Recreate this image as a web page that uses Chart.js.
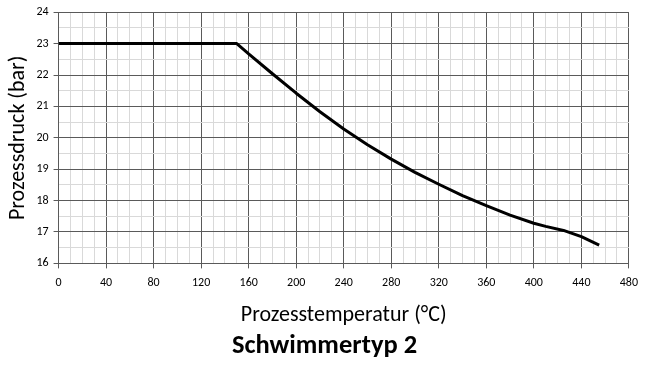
<!DOCTYPE html>
<html>
<head>
<meta charset="utf-8">
<script src="https://cdn.jsdelivr.net/npm/chart.js@4"></script>
<style>
html,body{margin:0;padding:0;background:#fff;}
#wrap{width:645px;height:367px;}
</style>
</head>
<body>
<div id="wrap"><canvas id="c" width="645" height="367"></canvas></div>
<script>
const temperatures = [0, 150, 160, 180, 200, 220, 240, 260, 280, 300, 320, 340, 360, 380, 400, 410, 425, 440, 455];
const pressures    = [23, 23, 22.67, 22.04, 21.42, 20.83, 20.28, 19.78, 19.32, 18.9, 18.52, 18.16, 17.84, 17.54, 17.28, 17.18, 17.05, 16.85, 16.58];
const xTickLabels = [0, 40, 80, 120, 160, 200, 240, 280, 320, 360, 400, 440, 480];
const yTickLabels = [16, 17, 18, 19, 20, 21, 22, 23, 24];
const xTitle = 'Prozesstemperatur (°C)';
const yTitle = 'Prozessdruck (bar)';
const chartTitle = 'Schwimmertyp 2';

const FONT = "Carlito, Lato, 'Open Sans', sans-serif";
const MAJOR = '#5a5a5a';
const MINOR = '#d9d9d9';

const points = temperatures.map((t, i) => ({x: t, y: pressures[i]}));

new Chart(document.getElementById('c'), {
  type: 'scatter',
  data: {
    datasets: [{
      data: points,
      showLine: true,
      borderColor: '#000',
      borderWidth: 3,
      pointRadius: 0,
      tension: 0,
      borderJoinStyle: 'round',
      fill: false
    }]
  },
  options: {
    responsive: false,
    animation: false,
    layout: {padding: {left: 5, right: 1, top: 0, bottom: 5}},
    plugins: {
      legend: {display: false},
      tooltip: {enabled: false},
      title: {
        display: true,
        text: chartTitle,
        position: 'bottom',
        color: '#000',
        font: {family: FONT, size: 26.5, weight: 'bold', lineHeight: 1.2},
        padding: {top: 2, bottom: 0}
      }
    },
    scales: {
      x: {
        type: 'linear',
        min: 0, max: 480,
        ticks: {
          stepSize: 10,
          autoSkip: false,
          maxRotation: 0,
          color: '#000',
          font: {family: FONT, size: 12},
          padding: 7,
          callback: v => xTickLabels.includes(v) ? String(v) : ''
        },
        grid: {
          color: c => (c.tick && c.tick.value % 40 === 0) ? MAJOR : MINOR,
          tickColor: c => (c.tick && c.tick.value % 40 === 0) ? MAJOR : 'rgba(0,0,0,0)',
          tickLength: 5,
          lineWidth: 1
        },
        border: {color: MAJOR},
        title: {
          display: true,
          text: xTitle,
          color: '#000',
          font: {family: FONT, size: 22, lineHeight: 1.2},
          padding: {top: 5, bottom: 0}
        }
      },
      y: {
        type: 'linear',
        min: 16, max: 24,
        ticks: {
          stepSize: 0.5,
          autoSkip: false,
          color: '#000',
          font: {family: FONT, size: 12},
          padding: 5,
          callback: v => yTickLabels.includes(v) ? String(v) : ''
        },
        grid: {
          color: c => (c.tick && Number.isInteger(c.tick.value)) ? MAJOR : MINOR,
          tickColor: c => (c.tick && Number.isInteger(c.tick.value)) ? MAJOR : 'rgba(0,0,0,0)',
          tickLength: 5,
          lineWidth: 1
        },
        border: {color: MAJOR},
        title: {
          display: true,
          text: yTitle,
          color: '#000',
          font: {family: FONT, size: 22, lineHeight: 1.2},
          padding: {top: 0, bottom: 0}
        }
      }
    }
  }
});
</script>
</body>
</html>
